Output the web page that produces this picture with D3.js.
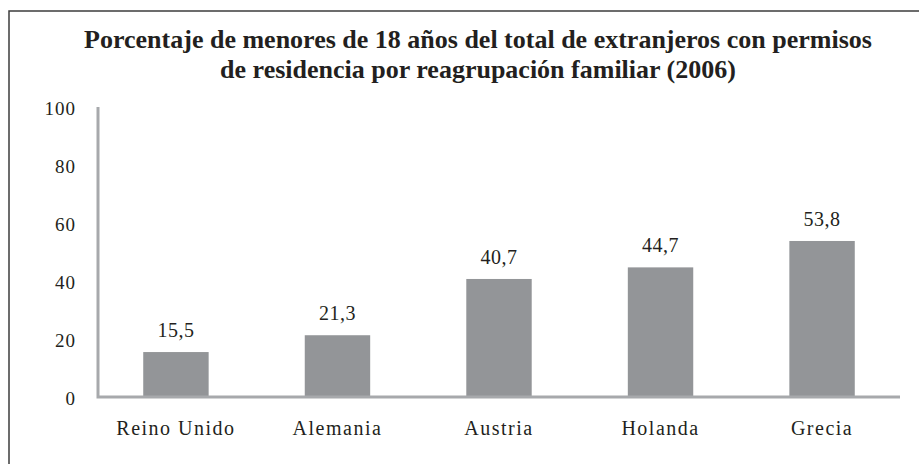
<!DOCTYPE html>
<html>
<head>
<meta charset="utf-8">
<script src="https://cdnjs.cloudflare.com/ajax/libs/d3/7.8.5/d3.min.js"></script>
<style>
  body { margin: 0; background: #fff; }
  svg text { font-family: "Liberation Serif", "Times New Roman", serif; fill: #231f20; }
</style>
</head>
<body>
<svg id="chart" width="919" height="464"></svg>
<script>
// data
const countries = ["Reino Unido", "Alemania", "Austria", "Holanda", "Grecia"];
const values = [15.5, 21.3, 40.7, 44.7, 53.8];
const valueLabels = ["15,5", "21,3", "40,7", "44,7", "53,8"];
const yTicks = [0, 20, 40, 60, 80, 100];
const titleLines = [
    "Porcentaje de menores de 18 años del total de extranjeros con permisos",
    "de residencia por reagrupación familiar (2006)"
];

const svg = d3.select("#chart");

// frame (only left and top edges are visible in the picture)
svg.append("path")
    .attr("d", "M9,464V11H919")
    .attr("fill", "none")
    .attr("stroke", "#3c3c3c")
    .attr("stroke-width", 1.5);

let x = d3.scaleBand()
    .domain(countries)
    .range([98, 900])
    .paddingInner(0.595)
    .paddingOuter(0.28);

let y = d3.scaleLinear()
    .domain([0, 100])
    .range([397, 107]);

// title
svg.append("g").selectAll("text")
    .data(titleLines)
    .enter().append("text")
    .attr("x", 478)
    .attr("y", (d, i) => 48 + i * 30)
    .attr("text-anchor", "middle")
    .style("font-size", "26px")
    .style("font-weight", "bold")
    .text(d => d);

// bars
svg.append("g").selectAll("rect")
    .data(values)
    .enter().append("rect")
    .attr("x", (d, i) => x(countries[i]))
    .attr("y", d => y(d))
    .attr("width", x.bandwidth())
    .attr("height", d => y(0) - y(d))
    .attr("fill", "#939598");

// value labels
svg.append("g").selectAll("text")
    .data(values)
    .enter().append("text")
    .attr("x", (d, i) => x(countries[i]) + x.bandwidth() / 2)
    .attr("y", d => y(d) - 15)
    .attr("text-anchor", "middle")
    .style("font-size", "20px")
    .style("letter-spacing", "0.5px")
    .text((d, i) => valueLabels[i]);

// axes
let yAxis = d3.axisLeft(y).tickValues(yTicks).tickSize(0).tickPadding(22);
let gy = svg.append("g").attr("transform", "translate(98,0)").call(yAxis);
gy.select(".domain").remove();
gy.selectAll("text")
    .style("font-size", "19px")
    .style("letter-spacing", "1px")
    .attr("dy", "0.4em");

let xAxis = d3.axisBottom(x).tickSize(0).tickPadding(24);
let gx = svg.append("g").attr("transform", "translate(0,397)").call(xAxis);
gx.select(".domain").remove();
gx.selectAll("text")
    .style("font-size", "20px")
    .style("letter-spacing", "1.5px");

// axis lines drawn on top
svg.append("path")
    .attr("d", "M" + 98 + "," + y(100) + "V" + y(0) + "H" + 900)
    .attr("fill", "none")
    .attr("stroke", "#a7a9ac")
    .attr("stroke-width", 3);
</script>
</body>
</html>
